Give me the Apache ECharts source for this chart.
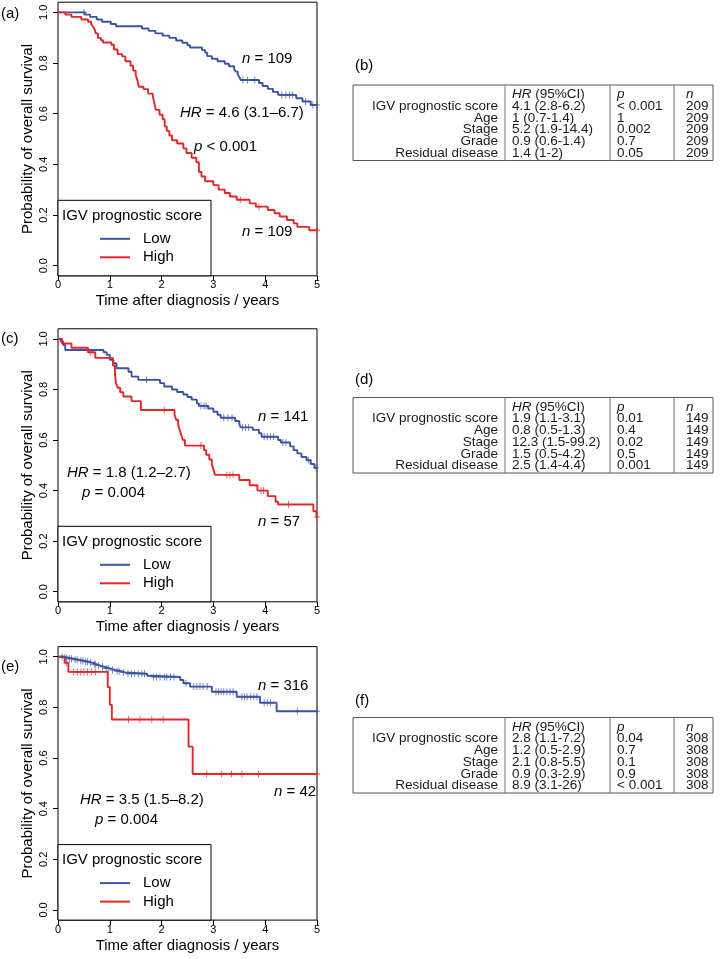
<!DOCTYPE html>
<html><head><meta charset="utf-8">
<script src="https://cdn.jsdelivr.net/npm/echarts@6/dist/echarts.min.js"></script>
<style>html,body{margin:0;padding:0;background:#fff}#c{width:722px;height:959px}</style>
</head><body><div id="c"></div>
<script>
// ---------------- DATA ----------------
const xTicks = [0, 1, 2, 3, 4, 5];
const yTicks = [0, 0.2, 0.4, 0.6, 0.8, 1.0];
const groupNames = ['Low', 'High'];
const legendTitle = 'IGV prognostic score';
const xTitle = 'Time after diagnosis / years';
const yTitle = 'Probability of overall survival';
const panelLetters = ['(a)', '(c)', '(e)'];
const tableLetters = ['(b)', '(d)', '(f)'];

// Panel (a)
const aLowT = [0,0.52,0.62,0.75,0.85,1.02,1.12,1.62,1.75,1.88,2.02,2.15,2.28,2.4,2.5,2.55,2.78,2.84,2.88,2.97,3.08,3.22,3.3,3.4,3.43,3.47,3.5,3.53,3.88,3.95,4.05,4.15,4.25,4.6,4.72,4.88,5.0];
const aLowS = [1,0.991,0.982,0.972,0.963,0.954,0.945,0.936,0.927,0.917,0.908,0.899,0.889,0.88,0.87,0.861,0.851,0.841,0.827,0.817,0.807,0.797,0.787,0.777,0.766,0.755,0.744,0.733,0.721,0.709,0.698,0.686,0.674,0.661,0.648,0.634,0.634];
const aLowCens = [0.5,3.57,3.66,3.8,4.32,4.4,4.47,4.53,4.78,4.92,5.0];
const aHighT = [0,0.14,0.26,0.45,0.58,0.64,0.67,0.70,0.73,0.77,0.83,0.87,1.03,1.08,1.15,1.24,1.3,1.4,1.45,1.5,1.53,1.56,1.65,1.74,1.83,1.86,1.89,1.96,2.02,2.06,2.1,2.15,2.2,2.3,2.42,2.48,2.58,2.67,2.72,2.77,2.84,3.0,3.1,3.22,3.32,3.45,3.7,3.82,4.05,4.18,4.28,4.42,4.55,4.62,4.85,5.0];
const aHighS = [1,0.991,0.982,0.972,0.963,0.954,0.945,0.936,0.917,0.899,0.89,0.881,0.872,0.853,0.835,0.826,0.807,0.789,0.77,0.752,0.734,0.706,0.697,0.679,0.67,0.642,0.615,0.596,0.578,0.55,0.532,0.514,0.495,0.482,0.463,0.445,0.426,0.408,0.37,0.352,0.333,0.318,0.3,0.287,0.273,0.26,0.246,0.233,0.22,0.207,0.194,0.18,0.167,0.153,0.14,0.14];
const aHighCens = [3.52,3.88,5.0];

// Panel (c)
const cLowT = [0,0.05,0.1,0.14,0.88,0.94,1.0,1.07,1.13,1.36,1.42,1.55,1.97,2.05,2.2,2.3,2.42,2.5,2.58,2.68,2.72,2.9,3.0,3.08,3.14,3.42,3.5,3.53,3.76,3.88,3.93,4.25,4.3,4.48,4.55,4.62,4.7,4.8,4.88,4.95,5.0];
const cLowS = [1,0.99,0.976,0.956,0.947,0.937,0.917,0.904,0.884,0.87,0.851,0.838,0.825,0.812,0.8,0.79,0.78,0.77,0.76,0.745,0.735,0.725,0.712,0.7,0.688,0.675,0.662,0.65,0.64,0.627,0.613,0.6,0.59,0.575,0.56,0.547,0.533,0.52,0.505,0.49,0.49];
const cLowCens = [1.71,2.76,2.82,2.86,3.2,3.28,3.36,3.56,3.62,3.68,3.98,4.04,4.1,4.16,4.34,4.4,4.84,4.98];
const cHighT = [0,0.08,0.26,0.58,0.72,1.06,1.1,1.12,1.15,1.2,1.26,1.42,1.6,2.25,2.28,2.32,2.35,2.38,2.41,2.45,2.82,2.86,2.92,2.97,3.0,3.03,3.5,3.7,3.85,4.05,4.2,4.25,4.93,4.99,5.0];
const cHighS = [1,0.982,0.965,0.947,0.925,0.895,0.86,0.825,0.807,0.789,0.772,0.754,0.719,0.7,0.68,0.66,0.64,0.62,0.6,0.578,0.56,0.542,0.523,0.504,0.485,0.462,0.442,0.421,0.4,0.378,0.356,0.345,0.318,0.295,0.295];
const cHighCens = [0.62,2.05,2.76,3.26,3.32,3.38,3.92,3.97,4.45,5.0];

// Panel (e)
const eLowT = [0,0.1,0.2,0.3,0.4,0.5,0.6,0.68,0.75,0.82,0.9,1.0,1.1,1.22,1.3,1.72,1.78,2.36,2.42,2.55,2.97,3.45,3.9,4.22,5.0];
const eLowS = [1,0.996,0.992,0.988,0.984,0.98,0.976,0.97,0.965,0.96,0.954,0.948,0.943,0.938,0.933,0.925,0.92,0.908,0.895,0.882,0.862,0.842,0.818,0.785,0.785];
const eLowCens = [0.08,0.13,0.17,0.22,0.26,0.33,0.37,0.44,0.48,0.53,0.57,0.63,0.7,0.72,0.78,0.86,0.93,0.97,1.05,1.14,1.18,1.26,1.35,1.42,1.48,1.55,1.62,1.67,1.84,1.9,1.97,2.05,2.1,2.17,2.24,2.47,2.62,2.68,2.74,2.8,2.88,3.05,3.1,3.15,3.2,3.26,3.32,3.38,3.55,3.6,3.65,3.72,3.78,3.84,3.98,4.04,4.1,4.62,5.0];
const eHighT = [0,0.13,0.2,0.96,1.0,1.04,2.52,2.6,5.0];
const eHighS = [1,0.976,0.94,0.88,0.81,0.752,0.645,0.537,0.537];
const eHighCens = [0.16,0.3,0.37,0.44,0.5,0.57,0.65,0.72,1.36,1.58,1.81,2.03,2.87,3.16,3.35,3.55,3.87,5.0];

// Annotations
const aNotes = ['{i|n} = 109', '{i|HR} = 4.6 (3.1–6.7)', '{i|p} < 0.001', '{i|n} = 109'];
const cNotes = ['{i|n} = 141', '{i|HR} = 1.8 (1.2–2.7)', '{i|p} = 0.004', '{i|n} = 57'];
const eNotes = ['{i|n} = 316', '{i|HR} = 3.5 (1.5–8.2)', '{i|p} = 0.004', '{i|n} = 42'];

// Tables
const tableHeader = ['{i|HR} (95%CI)', '{i|p}', '{i|n}'];
const tableRows = ['IGV prognostic score', 'Age', 'Stage', 'Grade', 'Residual disease'];
const bHR = ['4.1 (2.8-6.2)', '1 (0.7-1.4)', '5.2 (1.9-14.4)', '0.9 (0.6-1.4)', '1.4 (1-2)'];
const bP = ['< 0.001', '1', '0.002', '0.7', '0.05'];
const bN = ['209', '209', '209', '209', '209'];
const dHR = ['1.9 (1.1-3.1)', '0.8 (0.5-1.3)', '12.3 (1.5-99.2)', '1.5 (0.5-4.2)', '2.5 (1.4-4.4)'];
const dP = ['0.01', '0.4', '0.02', '0.5', '0.001'];
const dN = ['149', '149', '149', '149', '149'];
const fHR = ['2.8 (1.1-7.2)', '1.2 (0.5-2.9)', '2.1 (0.8-5.5)', '0.9 (0.3-2.9)', '8.9 (3.1-26)'];
const fP = ['0.04', '0.7', '0.1', '0.9', '< 0.001'];
const fN = ['308', '308', '308', '308', '308'];

// ---------------- STYLE / LAYOUT ----------------
const FONT = "'Liberation Sans', Arial, Helvetica, sans-serif";
const BLUE = '#3B54A4';
const RED = '#E3262A';
const PLUS = 'path://M-1,-7H1V7H-1Z M-7,-1H7V1H-7Z';

const panels = [
  {top: 2.2, h: 273.6, letterY: 14, low: [aLowT, aLowS, aLowCens], high: [aHighT, aHighS, aHighCens], notes: aNotes,
   notePos: [[242, 59], [180, 113], [194, 147], [242, 232]]},
  {top: 328.8, h: 273.0, letterY: 339, low: [cLowT, cLowS, cLowCens], high: [cHighT, cHighS, cHighCens], notes: cNotes,
   notePos: [[258, 417], [67, 473], [82, 493], [258, 522]]},
  {top: 646.6, h: 273.5, letterY: 667, low: [eLowT, eLowS, eLowCens], high: [eHighT, eHighS, eHighCens], notes: eNotes,
   notePos: [[258, 686], [80, 800], [95, 820], [274, 792]]}
];
const tables = [
  {labelY: 66, top: 85, hr: bHR, p: bP, n: bN},
  {labelY: 380, top: 397.5, hr: dHR, p: dP, n: dN},
  {labelY: 701, top: 717.5, hr: fHR, p: fP, n: fN}
];
const GL = 58, GW = 259;

function stepAt(T, S, t) {
  let v = S[0];
  for (let i = 0; i < T.length; i++) { if (T[i] <= t) v = S[i]; else break; }
  return v;
}
function zip(T, S) { return T.map((t, i) => [t, S[i]]); }

const grid = [], xAxis = [], yAxis = [], series = [], legend = [], elements = [];
const richI = {i: {fontStyle: 'italic', fontSize: 15, fontFamily: FONT, fill: '#000'}};

panels.forEach((p, k) => {
  const bottom = p.top + p.h;
  grid.push({left: GL, top: p.top, width: GW, height: p.h, show: true, borderColor: '#000', borderWidth: 1,
             backgroundColor: 'rgba(0,0,0,0)'});
  xAxis.push({gridIndex: k, type: 'value', min: 0, max: 5, interval: 1, position: 'bottom',
    axisLine: {show: false, onZero: false}, splitLine: {show: false},
    axisTick: {show: true, inside: false, length: 5, lineStyle: {color: '#000', width: 1}},
    axisLabel: {show: true, fontSize: 11, color: '#000', margin: 4, fontFamily: FONT},
    name: xTitle, nameLocation: 'middle', nameGap: 18,
    nameTextStyle: {fontSize: 15, color: '#000', fontFamily: FONT}});
  yAxis.push({gridIndex: k, type: 'value', min: -0.04, max: 1.04, position: 'left',
    axisLine: {show: false, onZero: false}, splitLine: {show: false},
    axisTick: {show: true, inside: false, length: 5, customValues: yTicks, lineStyle: {color: '#000', width: 1}},
    axisLabel: {show: true, customValues: yTicks, rotate: 90, fontSize: 11, color: '#000', margin: 9,
      fontFamily: FONT, formatter: v => Number(v).toFixed(1)},
    name: yTitle, nameLocation: 'middle', nameGap: 23,
    nameTextStyle: {fontSize: 15, color: '#000', fontFamily: FONT}});
  [[p.low, BLUE, groupNames[0]], [p.high, RED, groupNames[1]]].forEach(([d, col, nm]) => {
    series.push({type: 'line', name: nm, xAxisIndex: k, yAxisIndex: k, step: 'end', symbol: 'none',
      showSymbol: false, data: zip(d[0], d[1]), lineStyle: {color: col, width: 1.9}, itemStyle: {color: col},
      silent: true, z: 3});
    series.push({type: 'scatter', name: nm, xAxisIndex: k, yAxisIndex: k, symbol: PLUS, symbolSize: [6, 7],
      data: d[2].map(t => [t, stepAt(d[0], d[1], t)]), itemStyle: {color: col}, silent: true, z: 3});
  });
  // legend box + title
  elements.push({type: 'rect', shape: {x: GL, y: bottom - 75.5, width: 211 - GL, height: 75.5},
    style: {fill: '#fff', stroke: '#000', lineWidth: 1}, z: 5});
  elements.push({type: 'text', x: 62, y: bottom - 60, z: 6,
    style: {text: legendTitle, fontSize: 15, fontFamily: FONT, fill: '#000', verticalAlign: 'middle', align: 'left'}});
  legend.push({orient: 'vertical', left: 100, top: bottom - 37 - 8.5, padding: 0, itemWidth: 30, itemHeight: 2,
    itemGap: 1.5, icon: 'rect', selectedMode: false, data: groupNames, z: 7,
    textStyle: {fontSize: 15, color: '#000', fontFamily: FONT, lineHeight: 17, padding: [0, 0, 0, 8]}});
  // panel letter
  elements.push({type: 'text', x: 1, y: p.letterY, z: 6,
    style: {text: panelLetters[k], fontSize: 15, fontFamily: FONT, fill: '#000', verticalAlign: 'middle'}});
  // annotations
  p.notes.forEach((t, j) => {
    elements.push({type: 'text', x: p.notePos[j][0], y: p.notePos[j][1], z: 6,
      style: {text: t, rich: richI, fontSize: 15, fontFamily: FONT, fill: '#000', verticalAlign: 'middle', align: 'left'}});
  });
});

// tables
const TL = 353, TR = 713, C1 = 505, C2 = 610, C3 = 674, RH = 11.7, TFS = 13.5;
const tRich = {i: {fontStyle: 'italic', fontSize: TFS, fontFamily: FONT, fill: '#1a1a1a'}};
tables.forEach((tb, k) => {
  const h = 9.5 + RH * 5 + 7.5;
  elements.push({type: 'text', x: 355, y: tb.labelY,
    style: {text: tableLetters[k], fontSize: 15, fontFamily: FONT, fill: '#000', verticalAlign: 'middle'}});
  elements.push({type: 'rect', shape: {x: TL, y: tb.top, width: TR - TL, height: h},
    style: {fill: 'none', stroke: '#555', lineWidth: 1}});
  [C1, C2, C3].forEach(cx => elements.push({type: 'line', shape: {x1: cx, y1: tb.top, x2: cx, y2: tb.top + h},
    style: {stroke: '#777', lineWidth: 1}}));
  const txt = (s, x, y, al) => ({type: 'text', x: x, y: y,
    style: {text: s, rich: tRich, fontSize: TFS, fontFamily: FONT, fill: '#1a1a1a', verticalAlign: 'middle', align: al}});
  const hy = tb.top + 9.5;
  elements.push(txt(tableHeader[0], C1 + 7, hy, 'left'));
  elements.push(txt(tableHeader[1], C2 + 7, hy, 'left'));
  elements.push(txt(tableHeader[2], C3 + 12, hy, 'left'));
  tableRows.forEach((r, i) => {
    const y = hy + RH * (i + 1);
    elements.push(txt(r, C1 - 7, y, 'right'));
    elements.push(txt(tb.hr[i], C1 + 7, y, 'left'));
    elements.push(txt(tb.p[i], C2 + 7, y, 'left'));
    elements.push(txt(tb.n[i], C3 + 12, y, 'left'));
  });
});

const chart = echarts.init(document.getElementById('c'), null, {renderer: 'canvas', width: 722, height: 959});
chart.setOption({
  animation: false,
  backgroundColor: '#fff',
  textStyle: {fontFamily: FONT},
  tooltip: {show: false},
  grid, xAxis, yAxis, series, legend,
  graphic: {elements}
});
</script></body></html>
